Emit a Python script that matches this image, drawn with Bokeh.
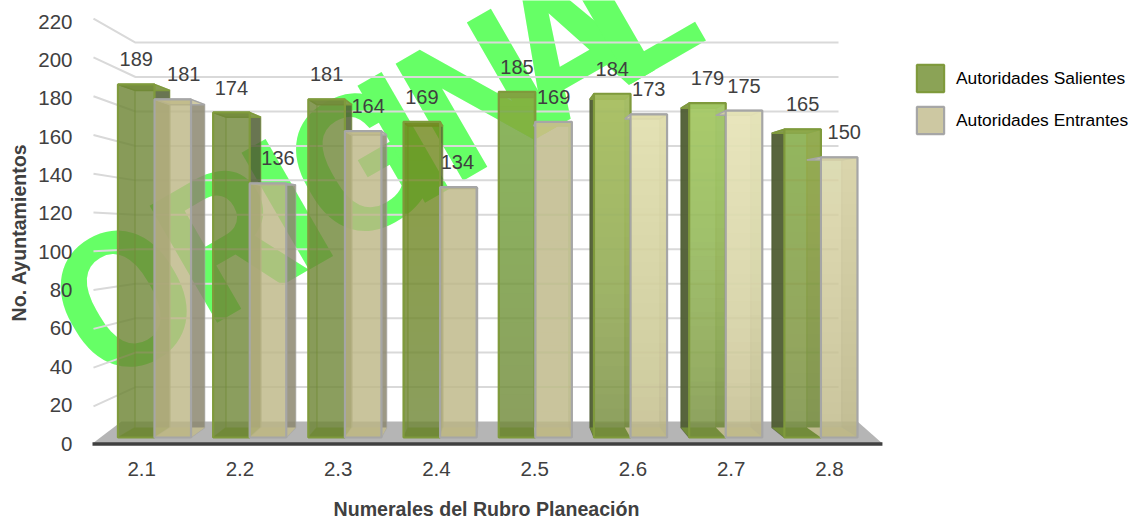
from bokeh.plotting import figure
from bokeh.models import Range1d, LinearAxis, FixedTicker, Label, Legend, LegendItem
from bokeh.core.properties import value
from bokeh.embed import file_html
from bokeh.resources import INLINE

# ---------- data ----------
categories = ["2.1", "2.2", "2.3", "2.4", "2.5", "2.6", "2.7", "2.8"]
salientes = [189, 174, 181, 169, 185, 184, 179, 165]
entrantes = [181, 136, 164, 134, 169, 173, 175, 150]
y_ticks = [0, 20, 40, 60, 80, 100, 120, 140, 160, 180, 200, 220]
series_names = ["Autoridades Salientes", "Autoridades Entrantes"]
x_title = "Numerales del Rubro Planeación"
y_title = "No. Ayuntamientos"
watermark = "ORIGINAL"

# ---------- pseudo 3-D projection (style only) ----------
PX = 1.918            # px per y unit
UX = 98.25            # px per x unit
FONT = "Liberation Sans"
front_y = lambda v: 3.13 + v * 0.974
back_y = lambda v: 8.34 + v * 0.93
wall_y = lambda v: 11.47 + v * 0.898
left_y = lambda v: -0.9 + v * 1.011
VX, K = 4.173, 0.0444
back_x = lambda x: x + K * (VX - x)
GROUP0, GROUP_STEP, HALF = 0.631, 0.969, 0.372
WALL_L, WALL_R = 0.4377, 7.593
page_x = lambda px: (px - 92) / UX
page_y = lambda py: (443 - py) / PX

p = figure(width=1135, height=518, frame_width=1135, frame_height=518,
           output_backend="svg", toolbar_location=None,
           x_range=Range1d(page_x(0), page_x(1135)), y_range=Range1d(page_y(518), page_y(0)),
           min_border_left=0, min_border_right=0, min_border_top=0, min_border_bottom=0,
           x_axis_location=None, y_axis_location=None, outline_line_color=None)
p.xgrid.visible = False
p.ygrid.visible = False

# ---------- axes ----------
xa = LinearAxis(ticker=FixedTicker(ticks=[i + 0.5 for i in range(len(categories))]),
                major_label_overrides={i + 0.5: c for i, c in enumerate(categories)},
                axis_line_color=None, major_tick_line_color=None, minor_tick_line_color=None,
                major_tick_in=0, major_tick_out=0,
                major_label_standoff=-57, major_label_text_font=FONT,
                major_label_text_font_size="20.5px", major_label_text_color="#404040")
ya = LinearAxis(ticker=FixedTicker(ticks=y_ticks),
                axis_line_color=None, major_tick_line_color=None, minor_tick_line_color=None,
                major_tick_in=0, major_tick_out=0,
                major_label_standoff=-72, major_label_text_font=FONT,
                major_label_text_font_size="20.5px", major_label_text_color="#404040")
p.add_layout(xa, "below")
p.add_layout(ya, "left")
p.add_layout(Label(x=page_x(486), y=page_y(508), text=x_title, text_align="center", text_baseline="middle",
                   text_font=FONT, text_font_style="bold", text_font_size="19.6px", text_color="#404040",
                   level="overlay"))
p.add_layout(Label(x=page_x(18), y=page_y(232), text=y_title, angle=90, angle_units="deg",
                   text_align="center", text_baseline="middle",
                   text_font=FONT, text_font_style="bold", text_font_size="19.6px", text_color="#404040",
                   level="overlay"))

# ---------- watermark, letter by letter along its baseline ----------
S0x, S0y = page_x(437), page_y(120)
ux, uy = 0.866 / UX, 0.5 / PX
slots = [-361, -243, -172, -90, -38, 47, 150, 225]
for ch, s in zip(watermark, slots):
    p.add_layout(Label(x=S0x + s * ux, y=S0y + s * uy, text=ch, angle=30, angle_units="deg",
                       text_font="Roboto", text_font_style="bold", text_font_size="190px",
                       text_color="#66ff66", text_baseline="alphabetic", text_align="center",
                       level="underlay"))

# ---------- floor and walls ----------
p.patch([0, 0.295, 7.786, 8.04], [0, 11.47, 11.47, 0], fill_color="#b5b5b5", line_color=None)
for v in y_ticks[1:]:
    p.line([0.01, WALL_L, WALL_R], [left_y(v), wall_y(v), wall_y(v)], line_color="#d9d9d9", line_width=2)
p.line([0, 8.04], [-0.2, -0.2], line_color="#404040", line_width=3.5)

# ---------- bars ----------
GLOW = [0.0, 0.0, 0.0, 0.1, 0.3, 0.6, 0.7, 0.5]
LAYERS = 24

def draw_bar(x0, x1, v, face, edge, side, top, base, tint, glow, alpha, is_rear_left):
    bx0, bx1 = back_x(x0), back_x(x1)
    fy0, fy1, by0, by1 = front_y(0), front_y(v), back_y(0), back_y(v)
    right_outer = bx1 > x1
    left_outer = bx0 < x0
    if not is_rear_left or not left_outer:
        p.patch([x0, bx0, bx0, x0], [fy0, by0, by1, fy1], fill_color=side if left_outer else face,
                fill_alpha=0.95 if left_outer else 0.12, line_color=side if left_outer else edge,
                line_alpha=0.7, line_width=1.2)
    p.patch([x1, bx1, bx1, x1], [fy0, by0, by1, fy1], fill_color=side,
            fill_alpha=0.85 if right_outer else 0.3, line_color=edge, line_alpha=0.5, line_width=1.2)
    p.patch([x0, bx0, bx1, x1], [fy1, by1, by1, fy1], fill_color=top, fill_alpha=0.9,
            line_color=edge, line_width=1.5)
    p.patch([x0, bx0, bx1, x1], [fy0, by0, by0, fy0], fill_color=base, fill_alpha=0.9, line_color=None)
    p.quad(left=x0, right=x1, bottom=fy0, top=fy1, fill_color=face, fill_alpha=alpha, line_color=None)
    if glow > 0:
        lows = [fy0 + (fy1 - fy0) * k / LAYERS for k in range(LAYERS)]
        p.quad(left=[x0] * LAYERS, right=[x1] * LAYERS, bottom=lows, top=[fy1] * LAYERS,
               fill_color=tint, fill_alpha=1 - (1 - glow) ** (1 / LAYERS), line_color=None)
    p.quad(left=x0, right=x1, bottom=fy0, top=fy1, fill_color=None, line_color=edge, line_width=2.2)

GREEN = ("#6e8636", "#7f9a3c", "#4f5d33", "#8a9f52", "#76913a", "#c8e878")
BEIGE = ("#bbb583", "#a6a6a6", "#8c8770", "#d5cfa8", "#c4be96", "#fff7d0")
centers = [GROUP0 + GROUP_STEP * i for i in range(len(categories))]
for i, c in enumerate(centers):
    draw_bar(c - HALF, c, salientes[i], *GREEN, GLOW[i], 0.8, False)
for i, c in enumerate(centers):
    draw_bar(c, c + HALF, entrantes[i], *BEIGE, GLOW[i], 0.8, True)

# ---------- value labels ----------
nudge = [11, 10, 5, -1, 0, 0, 0, 5]
lx, ly, lt = [], [], []
for i, c in enumerate(centers):
    lx += [c - HALF / 2, c + HALF / 2 + nudge[i] / UX]
    ly += [front_y(salientes[i]) + 13, front_y(entrantes[i]) + 13]
    lt += [str(salientes[i]), str(entrantes[i])]
p.text(lx, ly, text=lt, text_align="center", text_baseline="middle",
       text_font=value(FONT), text_font_size="20px", text_color="#404040")

# ---------- legend ----------
r1 = p.rect([0], [0], 0, 0, fill_color="#8ba356", line_color="#7f9a3c", line_width=2.2)
r2 = p.rect([0], [0], 0, 0, fill_color="#cdc8a2", line_color="#a6a6a6", line_width=2.2)
lg = Legend(items=[LegendItem(label=series_names[0], renderers=[r1]),
                   LegendItem(label=series_names[1], renderers=[r2])],
            location=(913, 381), orientation="vertical", border_line_color=None,
            background_fill_alpha=0, glyph_width=34, glyph_height=34, spacing=8,
            label_standoff=9, margin=0, padding=0, label_text_font=FONT,
            label_text_font_size="17.4px", label_text_color="#000000")
p.add_layout(lg, "center")

open("out.html", "w").write(file_html(p, INLINE))
